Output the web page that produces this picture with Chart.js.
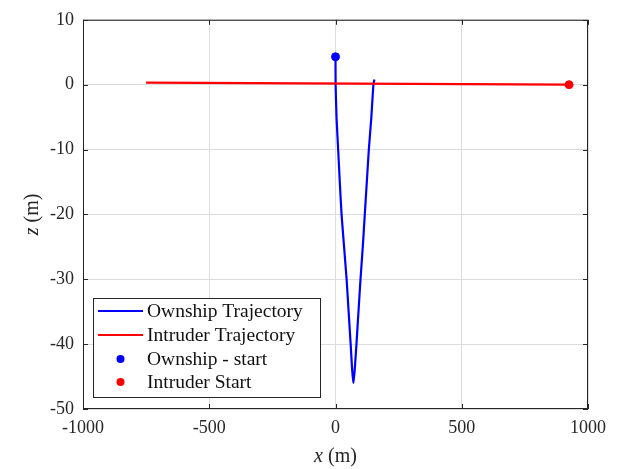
<!DOCTYPE html>
<html>
<head>
<meta charset="utf-8">
<script src="https://cdn.jsdelivr.net/npm/chart.js@4"></script>
<style>
  html, body { margin: 0; padding: 0; background: #fff; }
  #wrap { width: 624px; height: 469px; position: relative; }
</style>
</head>
<body>
<div id="wrap"><canvas id="traj"></canvas></div>
<script>
// ownship path (x, z)
const ownX = [0, 0.5, 4, 10.5, 17, 24, 34, 44, 52, 60, 66, 71, 76, 83, 91, 99, 108, 116, 124, 132, 142, 150, 154];
const ownZ = [4.3, 0, -5, -10, -15, -20, -25, -30, -35, -40, -44, -46, -44, -40, -35, -30, -25, -20, -15, -10, -5, 0, 0.8];
// intruder path
const intX = [-750, 925];
const intZ = [0.3, 0];
// start markers
const ownStart = [0, 4.3];
const intStart = [925, 0];

const xTicks = [-1000, -500, 0, 500, 1000];
const zTicks = [-50, -40, -30, -20, -10, 0, 10];

const serif = '"Liberation Serif", "DejaVu Serif", serif';
const axisColor = '#262626';

const toPts = (xs, ys) => xs.map((x, i) => ({ x: x, y: ys[i] }));

// box around the axes + inward tick marks + axis labels + legend
const matlabAxes = {
  id: 'matlabAxes',
  afterDraw(chart) {
    const { ctx, chartArea: a, scales } = chart;
    ctx.save();
    ctx.strokeStyle = axisColor;
    ctx.lineWidth = 1;
    ctx.strokeRect(a.left + 0.5, a.top + 0.5, a.right - a.left - 1, a.bottom - a.top - 1);

    // ticks pointing inward
    const tl = 5;
    ctx.beginPath();
    xTicks.forEach(v => {
      const px = Math.round(scales.x.getPixelForValue(v)) + 0.5;
      ctx.moveTo(px, a.bottom); ctx.lineTo(px, a.bottom - tl);
      ctx.moveTo(px, a.top); ctx.lineTo(px, a.top + tl);
    });
    zTicks.forEach(v => {
      const py = Math.round(scales.y.getPixelForValue(v)) + 0.5;
      ctx.moveTo(a.left, py); ctx.lineTo(a.left + tl, py);
      ctx.moveTo(a.right, py); ctx.lineTo(a.right - tl, py);
    });
    ctx.stroke();

    // axis titles, italic variable + upright unit
    ctx.fillStyle = axisColor;
    ctx.textBaseline = 'middle';
    const drawTitle = (v, unit) => {
      ctx.font = 'italic 20px ' + serif;
      const w1 = ctx.measureText(v).width;
      ctx.font = '20px ' + serif;
      const w2 = ctx.measureText(unit).width;
      ctx.font = 'italic 20px ' + serif;
      ctx.fillText(v, -(w1 + w2) / 2, 0);
      ctx.font = '20px ' + serif;
      ctx.fillText(unit, -(w1 + w2) / 2 + w1, 0);
    };
    ctx.textAlign = 'left';
    ctx.save();
    ctx.translate((a.left + a.right) / 2, 457);
    drawTitle('x', ' (m)');
    ctx.restore();
    ctx.save();
    ctx.translate(33, (a.top + a.bottom) / 2);
    ctx.rotate(-Math.PI / 2);
    drawTitle('z', ' (m)');
    ctx.restore();

    // legend box
    const lx = 93.5, ly = 298.5, lw = 227, lh = 99;
    ctx.fillStyle = '#fff';
    ctx.fillRect(lx, ly, lw, lh);
    ctx.strokeStyle = axisColor;
    ctx.strokeRect(lx, ly, lw, lh);
    const rows = [311, 335, 359, 382];
    ctx.font = '19.5px ' + serif;
    ctx.textAlign = 'left';
    ctx.textBaseline = 'middle';
    chart.data.datasets.forEach((ds, i) => {
      const y = rows[i];
      if (ds.showLine) {
        ctx.strokeStyle = ds.borderColor;
        ctx.lineWidth = 2;
        ctx.beginPath();
        ctx.moveTo(98, y); ctx.lineTo(143, y);
        ctx.stroke();
      } else {
        ctx.fillStyle = ds.backgroundColor;
        ctx.beginPath();
        ctx.arc(120.5, y, 4, 0, Math.PI * 2);
        ctx.fill();
      }
      ctx.fillStyle = '#111';
      ctx.fillText(ds.label, 147, y + 1);
    });
    ctx.restore();
  }
};

new Chart(document.getElementById('traj'), {
  type: 'scatter',
  data: {
    datasets: [
      { label: 'Ownship Trajectory', data: toPts(ownX, ownZ), showLine: true,
        borderColor: '#0000ff', backgroundColor: '#0000ff', borderWidth: 2.2,
        pointRadius: 0, tension: 0.15, order: 3 },
      { label: 'Intruder Trajectory', data: toPts(intX, intZ), showLine: true,
        borderColor: '#ff0000', backgroundColor: '#ff0000', borderWidth: 2.2,
        pointRadius: 0, order: 2 },
      { label: 'Ownship - start', data: [{ x: ownStart[0], y: ownStart[1] }], showLine: false,
        borderColor: '#0000ff', backgroundColor: '#0000ff', pointRadius: 4,
        pointStyle: 'circle', order: 1 },
      { label: 'Intruder Start', data: [{ x: intStart[0], y: intStart[1] }], showLine: false,
        borderColor: '#ff0000', backgroundColor: '#ff0000', pointRadius: 4,
        pointStyle: 'circle', order: 0 }
    ]
  },
  options: {
    responsive: true,
    maintainAspectRatio: false,
    animation: false,
    events: [],
    layout: { padding: { left: 0, top: 19, right: 36, bottom: 0 } },
    plugins: { legend: { display: false }, tooltip: { enabled: false } },
    scales: {
      x: {
        type: 'linear', min: -1000, max: 1000,
        afterBuildTicks: s => { s.ticks = xTicks.map(v => ({ value: v })); },
        afterFit: s => { s.height = 60; },
        grid: { color: '#dcdcdc', drawTicks: false },
        border: { display: false },
        ticks: { color: axisColor, padding: 8, font: { family: serif, size: 18 }, maxRotation: 0,
                 callback: v => String(v) }
      },
      y: {
        type: 'linear', min: -50, max: 10,
        afterBuildTicks: s => { s.ticks = zTicks.map(v => ({ value: v })); },
        afterFit: s => { s.width = 83; },
        grid: { color: '#dcdcdc', drawTicks: false },
        border: { display: false },
        ticks: { color: axisColor, padding: 9, font: { family: serif, size: 18 },
                 callback: v => String(v) }
      }
    }
  },
  plugins: [matlabAxes]
});
</script>
</body>
</html>
